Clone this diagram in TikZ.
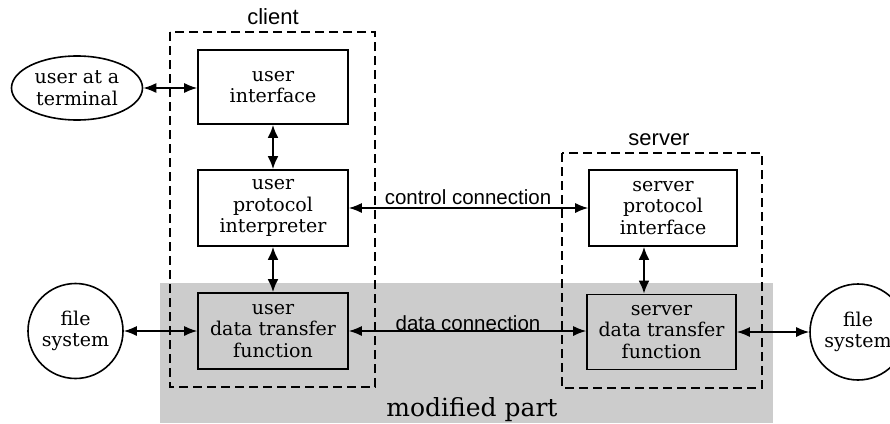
\documentclass[tikz,border=0pt]{standalone}
\usepackage{fontspec}
\setmainfont{DejaVu Serif}
\newfontfamily\sansf{Liberation Sans}
\usetikzlibrary{arrows.meta,shapes.geometric}
\begin{document}
\begin{tikzpicture}[x=1pt,y=-1pt,
  box/.style={draw,line width=1.6pt,rectangle,align=center,inner sep=0pt,
    font=\fontsize{19}{21.5}\selectfont},
  rnd/.style={draw,line width=1.6pt,align=center,inner sep=0pt,
    font=\fontsize{19}{21.5}\selectfont},
  dashbox/.style={draw,line width=1.6pt,dash pattern=on 9pt off 5pt},
  dbl/.style={line width=1.4pt,{Latex[length=13pt,width=10pt]}-{Latex[length=13pt,width=10pt]}},
  dblv/.style={line width=2.2pt,{Latex[length=13pt,width=11pt]}-{Latex[length=13pt,width=11pt]}},
  lab/.style={font=\sansf\fontsize{20.5}{22}\selectfont,inner sep=0pt},
  tag/.style={font=\sansf\fontsize{22}{24}\selectfont,inner sep=0pt}]
\useasboundingbox (0,0) rectangle (890,423);
\fill[black!20] (160,283) rectangle (773,423);
\draw[dashbox] (170,32) rectangle (375,387);
\draw[dashbox] (562,153) rectangle (762,388);
\node[tag] (client) at (273,17) {client};
\node[tag] (server) at (659,140) {server};
\node[box,minimum width=150pt,minimum height=74pt] (ui) at (273,87) {user\\interface};
\node[box,minimum width=150pt,minimum height=76pt] (upi) at (273,208) {user\\protocol\\interpreter};
\node[box,minimum width=150pt,minimum height=76pt] (udtf) at (273,331) {user\\data transfer\\function};
\node[box,minimum width=148pt,minimum height=76pt] (spi) at (663,208) {server\\protocol\\interface};
\node[box,minimum width=149pt,minimum height=75pt] (sdtf) at (661.5,332) {server\\data transfer\\function};
\node[rnd,ellipse,minimum width=131pt,minimum height=64pt] (term) at (77,88) {user at a\\terminal};
\node[rnd,circle,minimum size=95pt] (fsl) at (75.5,331) {file\\system};
\node[rnd,circle,minimum size=96pt] (fsr) at (858,332) {file\\system};
\node[lab] (cc) at (468,197) {control connection};
\node[lab] (dc) at (468,323) {data connection};
\node[font=\fontsize{25}{28}\selectfont,inner sep=0pt,anchor=base] (mod) at (472,416) {modified part};
\draw[dbl] (term.east) -- (ui.west |- term.east);
\draw[dblv] (ui.south) -- (upi.north);
\draw[dblv] (upi.south) -- (udtf.north);
\draw[dbl] (upi.east) -- (spi.west |- upi.east);
\draw[dbl] (udtf.east) -- (sdtf.west |- udtf.east);
\draw[dbl] (fsl.east) -- (udtf.west |- fsl.east);
\draw[dbl] (sdtf.east) -- (fsr.west |- sdtf.east);
\draw[dblv] ([xshift=-19pt]spi.south) -- ([xshift=-19pt]spi.south |- sdtf.north);
\end{tikzpicture}
\end{document}
